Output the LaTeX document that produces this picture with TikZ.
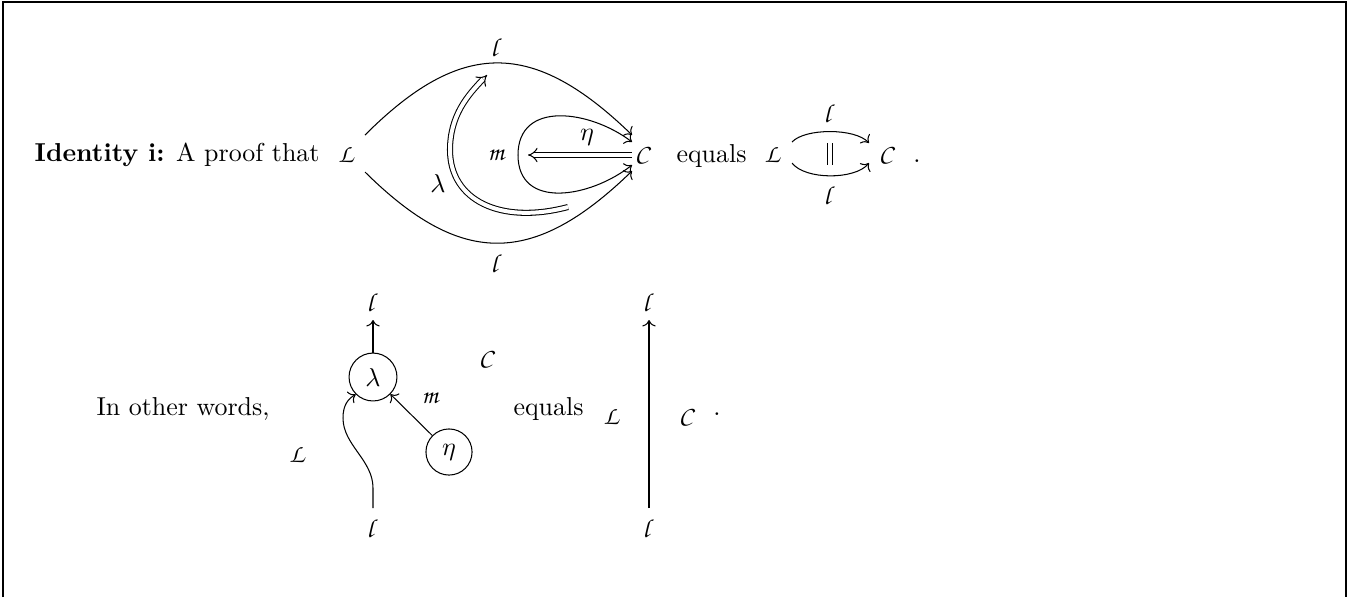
\documentclass[tikz,border=0pt]{standalone}
\usetikzlibrary{arrows.meta}
\DeclareMathAlphabet{\mathpzc}{OT1}{pzc}{m}{it}
\begin{document}
\begin{tikzpicture}[x=0.3861pt,y=-0.3861pt,
  lbl/.style={inner sep=0pt},
  txt/.style={inner sep=0pt},
  onecell/.style={->},
  twocell/.style={double, double equal sign distance, -{Implies}},
  eqcell/.style={double, double equal sign distance},
  bead/.style={draw, circle, inner sep=0pt, minimum size=18.5pt}]
\useasboundingbox (0,0) rectangle (1349,597);
\draw[line width=0.6pt] (3,597) -- (3,2) -- (1346,2) -- (1346,597);

% ---------- row 1, left diagram
\node[txt, anchor=base east] (intro) at (320,161) {\textbf{Identity i:} A proof that};
\node[lbl] (L1) at (347,155) {$\mathpzc{L}$};
\node[lbl] (C1) at (643,155) {$\mathpzc{C}$};
\node[lbl] (m1) at (497,155) {$\mathpzc{m}$};
\node[lbl] (ltop1) at (497,47) {$\mathpzc{l}$};
\node[lbl] (lbot1) at (497,263) {$\mathpzc{l}$};
\node[lbl] (etal1) at (587,137) {$\eta$};
\node[lbl] (laml1) at (438,183) {$\lambda$};

\coordinate (ta) at (365,135);
\coordinate (tb) at (632,135);
\coordinate (ba) at (365,172);
\coordinate (bb) at (632,171);
\coordinate (lp) at (518,155);
\coordinate (lt) at (632,142);
\coordinate (lb) at (632,165);
\coordinate (es) at (632,155);
\coordinate (ee) at (528,155);
\coordinate (ls) at (568,207);
\coordinate (lm) at (450,150);
\coordinate (le) at (487,75);

\draw[onecell] (ta) .. controls (461,39) and (533,39) .. (tb);
\draw[onecell] (ba) .. controls (461,267) and (533,267) .. (bb);
\draw[onecell] (lp) .. controls (518,100) and (590,110) .. (lt);
\draw[onecell] (lp) .. controls (518,210) and (590,198) .. (lb);
\draw[twocell] (es) -- (ee);
\draw[twocell] (ls) .. controls (500,225) and (450,200) .. (lm)
                    .. controls (450,115) and (468,95) .. (le);

% ---------- row 1, right diagram
\node[txt, anchor=base west] (eq1) at (676,162) {equals};
\node[lbl] (L2) at (773,155) {$\mathpzc{L}$};
\node[lbl] (C2) at (887,155) {$\mathpzc{C}$};
\node[lbl] (lt2) at (830,113) {$\mathpzc{l}$};
\node[lbl] (lb2) at (830,195) {$\mathpzc{l}$};
\node[txt, anchor=base] (dot1) at (917,162) {.};
\coordinate (ua) at (792,142);
\coordinate (ub) at (869,143);
\coordinate (va) at (792,163);
\coordinate (vb) at (869,163);
\coordinate (pa) at (830,143);
\coordinate (pb) at (830,165);
\draw[onecell] (ua) .. controls (805,128) and (855,128) .. (ub);
\draw[onecell] (va) .. controls (805,180) and (855,180) .. (vb);
\draw[eqcell] (pa) -- (pb);

% ---------- row 2, left string diagram
\node[txt, anchor=base east] (words) at (270,415) {In other words,};
\node[bead] (lam2) at (373,377) {$\lambda$};
\node[bead, minimum size=17.8pt] (eta2) at (449,452) {$\eta$};
\node[lbl] (lt3) at (373,302) {$\mathpzc{l}$};
\node[lbl] (lb3) at (373,528) {$\mathpzc{l}$};
\node[lbl] (m3) at (431,398) {$\mathpzc{m}$};
\node[lbl] (C3) at (487,359) {$\mathpzc{C}$};
\node[lbl] (L3) at (298,455) {$\mathpzc{L}$};
\coordinate (wtop) at (373,320);
\coordinate (wbot) at (373,508);
\coordinate (wk) at (373,488);
\coordinate (wm) at (343,418);
\draw[onecell] (lam2) -- (wtop);
\draw[onecell] (eta2) -- (lam2);
\draw[onecell] (wbot) -- (wk) .. controls (373,460) and (343,445) .. (wm)
   .. controls (343,405) and (348,399) .. (lam2.225);

% ---------- row 2, right string diagram
\node[txt, anchor=base west] (eq2) at (513,415) {equals};
\node[lbl] (L4) at (612,417) {$\mathpzc{L}$};
\node[lbl] (C4) at (687,417) {$\mathpzc{C}$};
\node[lbl] (lt4) at (649,302) {$\mathpzc{l}$};
\node[lbl] (lb4) at (649,528) {$\mathpzc{l}$};
\node[txt, anchor=base] (dot2) at (717,415) {.};
\coordinate (xtop) at (649,320);
\coordinate (xbot) at (649,508);
\draw[onecell] (xbot) -- (xtop);
\end{tikzpicture}
\end{document}
